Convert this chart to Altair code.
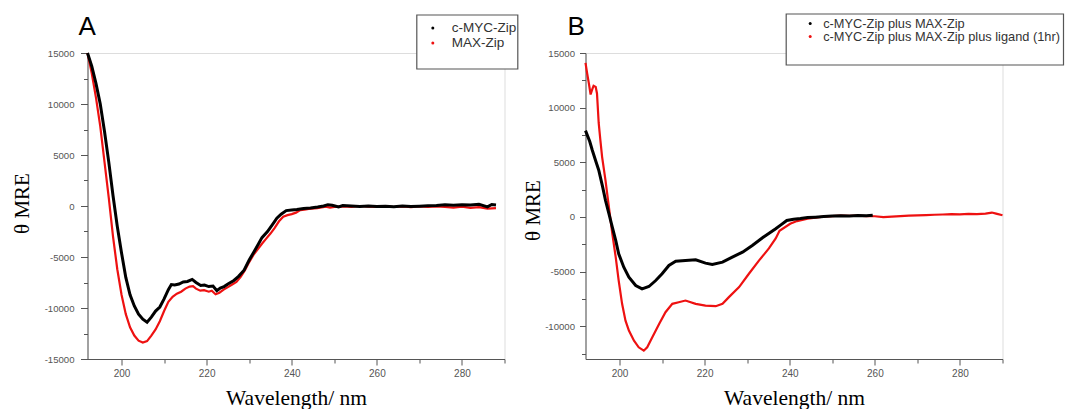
import altair as alt
import pandas as pd

# ---------------- data ----------------
series_a = ["c-MYC-Zip", "MAX-Zip"]
series_b = ["c-MYC-Zip plus MAX-Zip", "c-MYC-Zip plus MAX-Zip plus ligand (1hr)"]

# Panel A, c-MYC-Zip (black)
a_black_wl = [192, 193, 194, 195, 196, 197, 198, 199, 200, 201, 202, 203, 204, 205, 206,
              207, 208, 209, 210, 211, 211.7, 212.5, 213.5, 214.5, 215.5, 216.6, 217.5,
              218.6, 219.5, 220.5, 221.5, 222.4, 223.2, 224.1, 225, 226.4, 227.5, 228.8,
              230, 231.1, 232.2, 233, 234.3, 235.5, 236.5, 237.5, 238.7, 240, 241.2, 242.8,
              244.4, 246.1, 247.5, 248.5, 249.5, 251, 252, 254, 256, 258, 260, 262, 264,
              266, 268, 270, 272, 274, 276, 278, 280, 282, 284, 286, 287, 288]
a_black_mre = [15000, 13700, 12000, 10000, 7300, 4300, 1000, -2000, -4600, -7000, -8700,
               -9800, -10600, -11100, -11400, -10900, -10300, -9900, -9100, -8200, -7700,
               -7750, -7650, -7450, -7400, -7200, -7500, -7800, -7750, -7900, -7850, -8300,
               -8050, -7900, -7650, -7300, -6900, -6300, -5300, -4500, -3700, -3100, -2500,
               -1800, -1200, -800, -450, -400, -350, -250, -200, -100, 0, 130, 80, -100, 50,
               0, -50, 0, -50, -30, -80, 0, -60, -20, 30, 60, 120, 80, 130, 100, 170, -80,
               150, 100]

# Panel A, MAX-Zip (red)
a_red_wl = [192, 193, 194, 195, 196, 197, 198, 199, 200, 201, 202, 203, 204, 205, 206, 207,
            208, 209, 210, 211, 212, 213, 214, 215, 216, 216.8, 217.5, 218.5, 219.4, 220.5,
            221.2, 222.1, 223, 224, 225, 226, 227, 228, 229, 230, 231, 232, 233, 234, 235,
            236, 237, 238, 239, 240, 241, 242, 243, 244, 246, 248, 249, 250, 252, 254, 256,
            258, 260, 262, 264, 266, 268, 270, 272, 274, 276, 278, 280, 282, 284, 286, 288]
a_red_mre = [15000, 13000, 10600, 7800, 4300, 800, -3000, -6200, -8700, -10600, -11900,
             -12700, -13200, -13380, -13250, -12700, -12100, -11300, -10300, -9400, -8900,
             -8600, -8400, -8100, -7900, -7850, -8100, -8300, -8250, -8400, -8300, -8650,
             -8500, -8200, -7950, -7700, -7450, -6950, -6300, -5500, -4800, -4250, -3700,
             -3200, -2700, -2150, -1500, -1050, -900, -800, -650, -400, -350, -280, -200,
             -60, -150, -100, -30, -80, 0, -60, -80, -50, -100, -40, -120, -50, -100, -30,
             -80, -150, -60, -180, -120, -250, -200]

# Panel B, c-MYC-Zip plus MAX-Zip (black)
b_black_wl = [192, 193, 193.6, 194.5, 195.1, 196, 196.7, 197.5, 198.3, 199.1, 199.8, 201,
              202.2, 203.8, 205.3, 206.9, 208.5, 210, 211.6, 213.2, 215.5, 217.9, 220.2,
              221.8, 224.2, 226.5, 228.9, 231.2, 233.6, 236.7, 238, 239.3, 240.9, 242.5,
              244.2, 246, 248, 250, 252, 254, 256, 258, 259.5]
b_black_mre = [7900, 6900, 6100, 5000, 4300, 2800, 1520, 300, -930, -2150, -3370, -4600,
               -5510, -6270, -6580, -6370, -5820, -5200, -4440, -4050, -3990, -3930, -4230,
               -4350, -4140, -3680, -3220, -2610, -1900, -1080, -700, -320, -220, -150,
               -60, -20, 30, 80, 100, 80, 120, 100, 150]

# Panel B, plus ligand (red)
b_red_wl = [192, 192.4, 192.8, 193.2, 193.6, 193.9, 194.4, 194.7, 195.1, 195.5, 195.9,
            196.7, 197.5, 198.3, 199.1, 199.8, 200.6, 201.4, 202.2, 203.4, 204.5, 205.7,
            206.5, 207.7, 209.3, 210.8, 212.4, 213.9, 215.5, 217.9, 220.2, 222.6, 224.2,
            225.7, 228.1, 230.4, 232.8, 235.1, 236.7, 237.6, 240.1, 241.7, 244.2, 246, 248,
            250, 252, 254, 256, 258, 260, 262, 264, 266, 268, 270, 272, 274, 276, 278, 280,
            282, 284, 286, 287.5, 288.5, 290]
b_red_mre = [14100, 13100, 12200, 11200, 11700, 12000, 11900, 11300, 8600, 7000, 5500,
             3350, 900, -1530, -3680, -5820, -7950, -9490, -10400, -11320, -11930, -12240,
             -11930, -11020, -9790, -8720, -7950, -7810, -7650, -7950, -8110, -8170, -7950,
             -7340, -6420, -5200, -3980, -2880, -1970, -1270, -630, -380, -160, -60, 20, 80,
             130, 100, 120, 80, 60, -20, 30, 80, 120, 140, 170, 200, 220, 250, 230, 280, 260,
             300, 400, 300, 150]

x_values = [200, 210, 220, 230, 240, 250, 260, 270, 280, 290]
a_y_values = [-15000, -12500, -10000, -7500, -5000, -2500, 0, 2500, 5000, 7500, 10000, 12500, 15000]
b_y_values = [-12500, -10000, -7500, -5000, -2500, 0, 2500, 5000, 7500, 10000, 12500, 15000]

SANS = "Liberation Sans"
SERIF = "Liberation Serif"
AXC = "#555555"
RED = "#ee1111"
W, H = 417, 306


def panel(black_wl, black_mre, red_wl, red_mre, names, y_domain, y_values, letter,
          letter_dx, ytitle_x, ytitle_y, lab_pad, tick_major, leg):
    black = pd.DataFrame({"wl": black_wl, "mre": black_mre, "series": names[0]})
    red = pd.DataFrame({"wl": red_wl, "mre": red_mre, "series": names[1]})

    x = alt.X(
        "wl:Q",
        scale=alt.Scale(domain=[192, 290], nice=False, zero=False),
        axis=alt.Axis(
            values=x_values,
            labelExpr="datum.value % 20 === 0 ? '' + datum.value : ''",
            tickSize={"condition": {"test": "datum.value % 20 !== 0", "value": 4}, "value": 6},
            grid=False, domainColor=AXC, tickColor=AXC, labelColor=AXC,
            labelFont=SANS, labelFontSize=10, labelPadding=3,
            title="Wavelength/ nm", titleFont=SERIF, titleFontSize=21.5,
            titleFontWeight="normal", titleColor="black", titleBaseline="alphabetic",
            titleY=45,
        ),
    )
    y = alt.Y(
        "mre:Q",
        scale=alt.Scale(domain=y_domain, nice=False, zero=False),
        axis=alt.Axis(
            values=y_values,
            labelExpr="datum.value % 5000 === 0 ? '' + datum.value : ''",
            tickSize={"condition": {"test": "datum.value % 5000 !== 0", "value": 4}, "value": tick_major},
            grid=False, domainColor=AXC, tickColor=AXC, labelColor=AXC,
            labelFont=SANS, labelFontSize=9.6, labelPadding=lab_pad,
            title="θ MRE", titleFont=SERIF, titleFontSize=21, titleFontWeight="normal",
            titleColor="black", titleAngle=270, titleBaseline="alphabetic",
            titleAlign="center", titleX=ytitle_x, titleY=ytitle_y,
        ),
    )

    red_line = alt.Chart(red).mark_line(color=RED, strokeWidth=2.2).encode(x=x, y=y)
    black_line = alt.Chart(black).mark_line(color="black", strokeWidth=3).encode(x=x, y=y)

    lx0, lx1, ly0, ly1, sx, tx, rows, fs = leg
    box = alt.Chart(pd.DataFrame({"k": [0]})).mark_rect(
        fill="white", stroke=AXC, strokeWidth=1.2
    ).encode(x=alt.value(lx0), x2=alt.value(lx1), y=alt.value(ly0), y2=alt.value(ly1))

    layers = [red_line, black_line, box]
    for name, ry, col in zip(names, rows, ["black", RED]):
        d = pd.DataFrame({"label": [name]})
        layers.append(alt.Chart(d).mark_point(filled=True, size=9, color=col, opacity=1)
                      .encode(x=alt.value(sx), y=alt.value(ry)))
        layers.append(alt.Chart(d).mark_text(align="left", baseline="middle", font=SANS,
                                             fontSize=fs, color="#333333")
                      .encode(text="label:N", x=alt.value(tx), y=alt.value(ry)))

    letter_layer = alt.Chart(pd.DataFrame({"t": [letter]})).mark_text(
        align="left", baseline="alphabetic", font=SANS, fontSize=26, color="black"
    ).encode(text="t:N", x=alt.value(letter_dx), y=alt.value(-18))
    layers.append(letter_layer)

    return alt.layer(*layers).properties(width=W, height=H)


pa = panel(a_black_wl, a_black_mre, a_red_wl, a_red_mre, series_a, [-15000, 15000],
           a_y_values, "A", -9, -58.7, 150, 6.5, 7,
           (329.3, 430.3, -38, 16, 345.3, 364.3, [-25, -10], 13.5))
pb = panel(b_black_wl, b_black_mre, b_red_wl, b_red_mre, series_b, [-13000, 15000],
           b_y_values, "B", -18, -46.3, 157, 5, 6,
           (200.7, 478, -39, 12, 224.7, 237.7, [-29.5, -16.5], 12.8))

chart = alt.hconcat(pa, pb, spacing=81, bounds="flush").properties(
    padding={"left": 2.5, "top": 4, "right": 0, "bottom": 0}
).configure_view(stroke=None).configure(background="white")

chart.save("out.html", embed_options={"renderer": "svg", "actions": False})
